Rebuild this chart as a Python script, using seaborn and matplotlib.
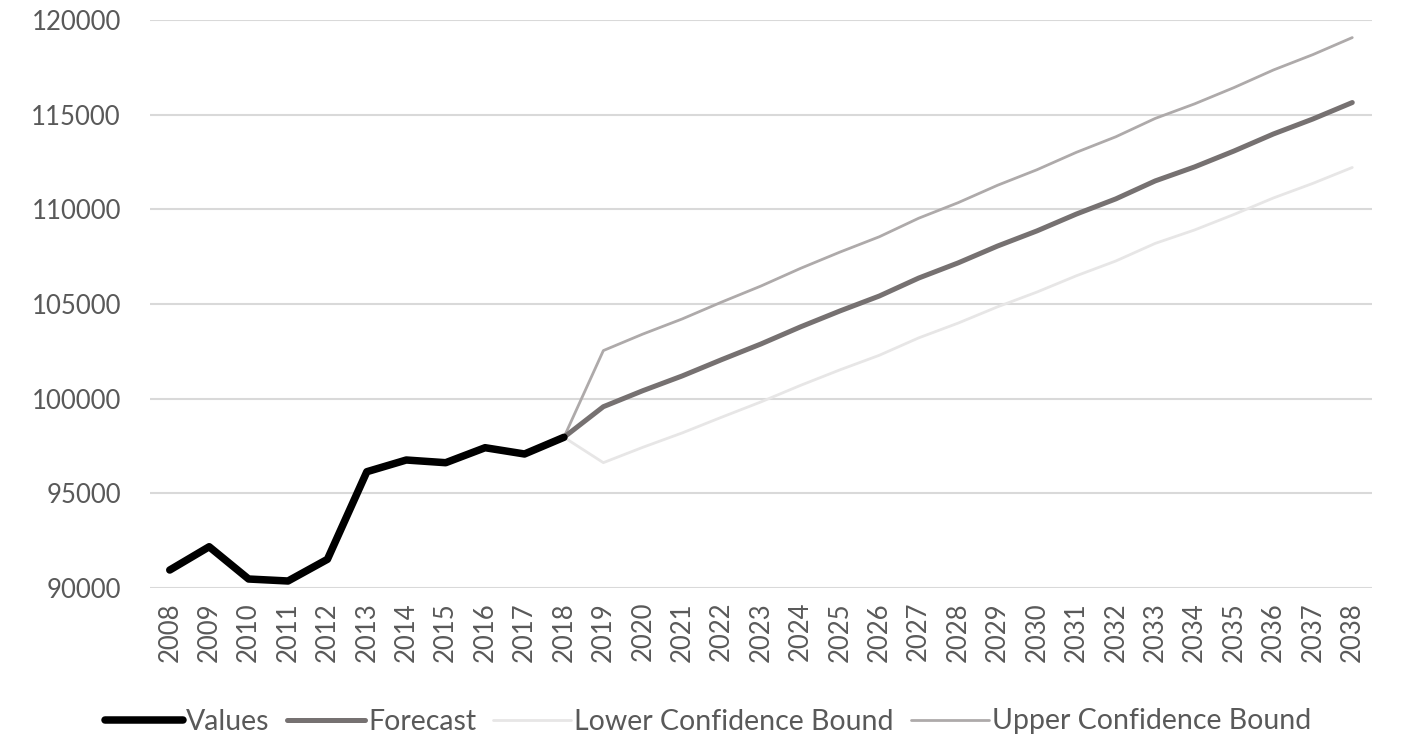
import numpy as np
import pandas as pd
import matplotlib
matplotlib.use("Agg")
import matplotlib.pyplot as plt
import seaborn as sns
from matplotlib.lines import Line2D

# Historical observations
hist_years = list(range(2008, 2019))
hist_values = [90950, 92180, 90475, 90370, 91516, 96142,
               96760, 96618, 97410, 97078, 97960]

# Forecast horizon with confidence bounds
fc_years = list(range(2019, 2039))
forecast = [99576, 100420, 101200, 102060, 102890, 103790, 104630,
            105420, 106370, 107170, 108060, 108860, 109750, 110550,
            111500, 112240, 113080, 113980, 114770, 115640]
upper = [102540, 103410, 104210, 105100, 105950, 106880, 107740,
         108550, 109530, 110350, 111270, 112090, 113010, 113830,
         114800, 115570, 116430, 117360, 118170, 119070]
lower = [96620, 97430, 98190, 99020, 99830, 100700, 101520,
         102290, 103210, 103990, 104850, 105630, 106490, 107270,
         108200, 108910, 109730, 110600, 111370, 112210]

series_names = ["Values", "Forecast", "Lower Confidence Bound",
                "Upper Confidence Bound"]
y_ticks = [90000, 95000, 100000, 105000, 110000, 115000, 120000]

# Forecast series start from the last observed point
last_year, last_val = hist_years[-1], hist_values[-1]
frames = [
    pd.DataFrame({"Year": hist_years, "Value": hist_values, "Series": series_names[0]}),
    pd.DataFrame({"Year": [last_year] + fc_years, "Value": [last_val] + forecast,
                  "Series": series_names[1]}),
    pd.DataFrame({"Year": [last_year] + fc_years, "Value": [last_val] + lower,
                  "Series": series_names[2]}),
    pd.DataFrame({"Year": [last_year] + fc_years, "Value": [last_val] + upper,
                  "Series": series_names[3]}),
]
df = pd.concat(frames, ignore_index=True)

sns.set_theme(style="white")
plt.rcParams["font.family"] = ["Lato", "DejaVu Sans"]

fig = plt.figure(figsize=(14.05, 7.4), dpi=100)
ax = fig.add_axes([0.1068, 0.2054, 0.8697, 0.7676])

palette = {"Values": "#000000", "Forecast": "#767171",
           "Lower Confidence Bound": "#e7e6e6",
           "Upper Confidence Bound": "#aeaaaa"}
widths = {"Values": 5.4, "Forecast": 3.6,
          "Lower Confidence Bound": 2.0, "Upper Confidence Bound": 2.0}

# Draw bounds first so the main lines sit on top
for name in ["Lower Confidence Bound", "Upper Confidence Bound", "Forecast", "Values"]:
    sub = df[df["Series"] == name]
    sns.lineplot(data=sub, x="Year", y="Value", ax=ax, color=palette[name],
                 linewidth=widths[name], label=name, sort=False,
                 solid_capstyle="round", solid_joinstyle="round", legend=False)

ax.set_xlim(2007.5, 2038.5)
ax.set_ylim(90000, 120000)
all_years = hist_years + fc_years
ax.set_xticks(all_years)
ax.set_xticklabels([str(y) for y in all_years], rotation=90)
ax.set_yticks(y_ticks)
ax.set_yticklabels([str(v) for v in y_ticks])
ax.set_xlabel("")
ax.set_ylabel("")

ax.grid(axis="y", color="#d9d9d9", linewidth=1.5)
ax.grid(axis="x", visible=False)
ax.set_axisbelow(True)
for s in ax.spines.values():
    s.set_visible(False)
ax.tick_params(axis="both", length=0, labelsize=18.5, colors="#595959")
ax.tick_params(axis="y", pad=21)
ax.tick_params(axis="x", pad=10)

handles = [Line2D([0], [0], color=palette[n], linewidth=widths[n],
                  solid_capstyle="round") for n in series_names]
leg = fig.legend(handles, series_names, loc="center", ncol=4,
                 bbox_to_anchor=(0.504, 0.025), frameon=False,
                 fontsize=20.5, handlelength=2.75, handletextpad=0.1,
                 columnspacing=0.6)
for t in leg.get_texts():
    t.set_color("#595959")

fig.savefig("out.png", dpi=100, facecolor="white")
